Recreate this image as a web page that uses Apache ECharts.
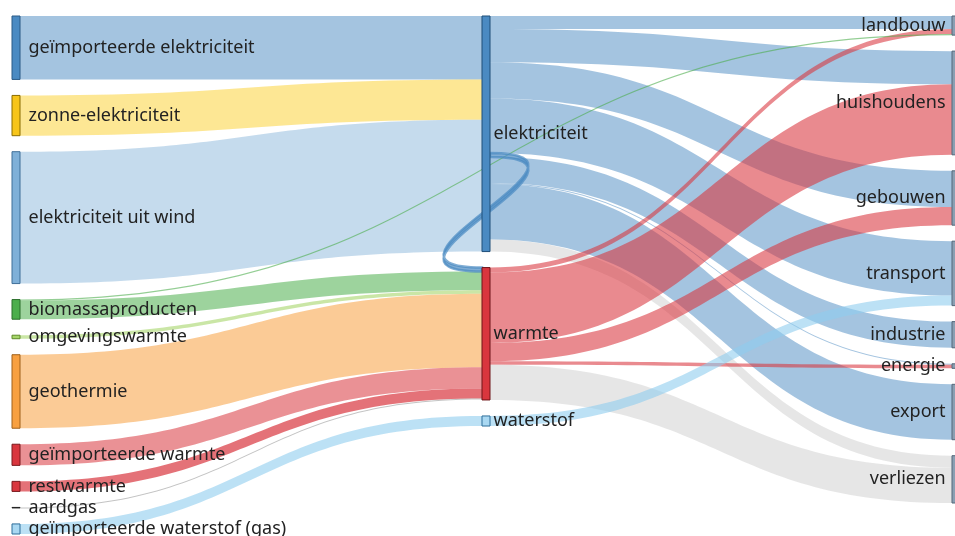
<!DOCTYPE html>
<html><head><meta charset="utf-8">
<script src="https://cdn.jsdelivr.net/npm/echarts@6/dist/echarts.min.js"></script>
<style>html,body{margin:0;padding:0;background:#fff}#c{width:955px;height:536px}</style>
</head><body><div id="c"></div>
<script>
// ---- data ----
const sourceNodes = ['geïmporteerde elektriciteit','zonne-elektriciteit','elektriciteit uit wind','biomassaproducten','omgevingswarmte','geothermie','geïmporteerde warmte','restwarmte','aardgas','geïmporteerde waterstof (gas)'];
const carrierNodes = ['elektriciteit','warmte','waterstof'];
const useNodes = ['landbouw','huishoudens','gebouwen','transport','industrie','energie','export','verliezen'];

const inputFlows = [
  ['geïmporteerde elektriciteit','elektriciteit',63],
  ['zonne-elektriciteit','elektriciteit',40],
  ['elektriciteit uit wind','elektriciteit',131],
  ['biomassaproducten','warmte',18.5],
  ['omgevingswarmte','warmte',3.5],
  ['geothermie','warmte',73],
  ['geïmporteerde warmte','warmte',21],
  ['restwarmte','warmte',10],
  ['aardgas','warmte',0.5],
  ['geïmporteerde waterstof (gas)','waterstof',10]
];
const electricityFlows = [
  ['elektriciteit','landbouw',13],
  ['elektriciteit','huishoudens',33],
  ['elektriciteit','gebouwen',36],
  ['elektriciteit','transport',54],
  ['elektriciteit','industrie',26],
  ['elektriciteit','energie',1],
  ['elektriciteit','export',55],
  ['elektriciteit','verliezen',12]
];
const heatFlows = [
  ['warmte','landbouw',5],
  ['warmte','huishoudens',70],
  ['warmte','gebouwen',18],
  ['warmte','energie',3.5],
  ['warmte','verliezen',35]
];
const otherFlows = [
  ['waterstof','transport',10],
  ['biomassaproducten','landbouw',1],
  ['elektriciteit','warmte',4]
];

// ---- styles ----
const nodeColor = {
  'geïmporteerde elektriciteit':['#4a8ac2','#2a5a86'],
  'zonne-elektriciteit':['#f7c51a','#8a6d00'],
  'elektriciteit uit wind':['#7fb0d8','#3f6f98'],
  'biomassaproducten':['#4cae4c','#2a6e2a'],
  'omgevingswarmte':['#a6d66a','#5f8a2a'],
  'geothermie':['#f8a040','#a0601a'],
  'geïmporteerde warmte':['#d9363e','#7a1a1e'],
  'restwarmte':['#d9363e','#7a1a1e'],
  'aardgas':['#444444','#222222'],
  'geïmporteerde waterstof (gas)':['#a9d8f2','#2f6e9a'],
  'elektriciteit':['#4a8ac2','#1f4e79'],
  'warmte':['#d9363e','#6e1418'],
  'waterstof':['#a9d8f2','#2f6e9a']
};
const linkBase = {
  'geïmporteerde elektriciteit':['#4a8ac2',0.5],
  'zonne-elektriciteit':['#fbc600',0.42],
  'elektriciteit uit wind':['#7fb0d8',0.45],
  'biomassaproducten':['#4cae4c',0.55],
  'omgevingswarmte':['#a6d66a',0.6],
  'geothermie':['#f8a040',0.55],
  'geïmporteerde warmte':['#d9363e',0.55],
  'restwarmte':['#d9363e',0.7],
  'aardgas':['#888888',0.5],
  'geïmporteerde waterstof (gas)':['#8fcdef',0.6],
  'elektriciteit':['#4a8ac2',0.5],
  'warmte':['#d9363e',0.58],
  'waterstof':['#8fcdef',0.6]
};

const nodes = [];
sourceNodes.forEach(n => nodes.push({name:n, depth:0, itemStyle:{color:nodeColor[n][0], borderColor:nodeColor[n][1], borderWidth:1}, label:{position:'right', distance:8}}));
carrierNodes.forEach(n => nodes.push({name:n, depth:1, itemStyle:{color:nodeColor[n][0], borderColor:nodeColor[n][1], borderWidth:1}, label:{position:'right', distance:3}}));
useNodes.forEach(n => nodes.push({name:n, depth:2, itemStyle:{color:'#8a9fb2', borderColor:'#55687a', borderWidth:1}, label:{position:'left', distance:6}}));

const links = [];
[...inputFlows, ...electricityFlows, ...heatFlows, ...otherFlows].forEach(([s,t,v]) => {
  let c = linkBase[s][0], o = linkBase[s][1];
  const ls = {color:c, opacity:o, curveness:0.5};
  if (t === 'verliezen') { ls.color = '#d6d6d6'; ls.opacity = 0.6; }
  if (s === 'biomassaproducten' && t === 'landbouw') { ls.color = '#4cae4c'; ls.opacity = 0.6; }
  if (s === 'elektriciteit' && t === 'warmte') {
    ls.curveness = -17; ls.opacity = 0.7; ls.borderColor = '#4a8ac2'; ls.borderWidth = 2.5;
  }
  links.push({source:s, target:t, value:v, lineStyle:ls});
});

// The topological pass counts one extra level (elektriciteit -> warmte share a column),
// so the layout box is widened to keep three columns spread over the view.
const chart = echarts.init(document.getElementById('c'), null, {renderer:'canvas'});
chart.setOption({
  animation:false,
  series:[{
    type:'sankey',
    left:12, top:16, width:1418, height:518,
    nodeWidth:8, nodeGap:16, layoutIterations:0, nodeAlign:'left', draggable:false,
    emphasis:{disabled:true},
    label:{color:'#222', fontFamily:'Noto Sans', fontSize:18, textBorderWidth:0},
    data:nodes, links:links
  }]
});
</script></body></html>
